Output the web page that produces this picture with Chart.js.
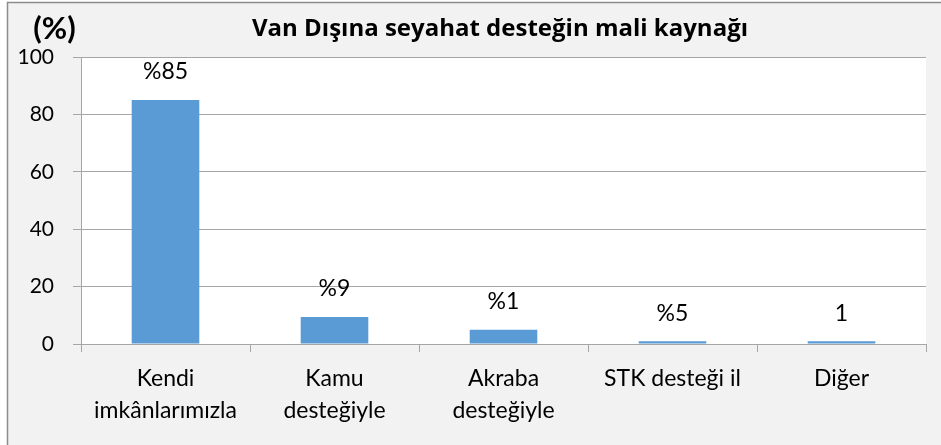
<!DOCTYPE html>
<html>
<head>
<meta charset="utf-8">
<script src="https://cdn.jsdelivr.net/npm/chart.js@4"></script>
<style>
  html, body { margin: 0; padding: 0; background: #fff; }
  #wrap { width: 941px; height: 445px; }
</style>
</head>
<body>
<div id="wrap"><canvas id="myChart" width="941" height="445"></canvas></div>
<script>
// chart data
const categories = [['Kendi', 'imkânlarımızla'], ['Kamu', 'desteğiyle'], ['Akraba', 'desteğiyle'], 'STK desteği il', 'Diğer'];
const values = [85, 9.4, 5, 1, 1];
const valueLabels = ['%85', '%9', '%1', '%5', '1'];
const yMin = 0;
const yMax = 100;
const yStep = 20;
const titleText = 'Van Dışına seyahat desteğin mali kaynağı';
const unitText = '(%)';

const fontName = 'Lato, "Open Sans", sans-serif';
const titleFont = '"Open Sans", Lato, sans-serif';
const gridColor = '#a6a6a6';

// background, border and white plot area
const backdrop = {
    id: 'backdrop',
    beforeDraw(chart) {
        const ctx = chart.ctx;
        const a = chart.chartArea;
        ctx.save();
        ctx.fillStyle = '#ffffff';
        ctx.fillRect(0, 0, chart.width, chart.height);
        ctx.fillStyle = '#f2f2f2';
        ctx.fillRect(8, 3, chart.width - 8, chart.height - 3);
        ctx.strokeStyle = '#8c8c8c';
        ctx.lineWidth = 1.5;
        ctx.beginPath();
        ctx.moveTo(7.5, chart.height);
        ctx.lineTo(7.5, 2.5);
        ctx.lineTo(chart.width, 2.5);
        ctx.stroke();
        ctx.fillStyle = '#ffffff';
        ctx.fillRect(a.left, a.top, a.right - a.left, a.bottom - a.top);
        ctx.restore();
    }
};

// titles and value labels
const texts = {
    id: 'texts',
    afterDraw(chart) {
        const ctx = chart.ctx;
        ctx.save();
        ctx.fillStyle = '#000';
        ctx.textBaseline = 'middle';
        ctx.textAlign = 'center';
        ctx.font = 'bold 24px ' + titleFont;
        ctx.fillText(titleText, 500, 29);
        ctx.font = 'bold 31px ' + fontName;
        ctx.fillText(unitText, 54.5, 29);

        ctx.font = '23px ' + fontName;
        const meta = chart.getDatasetMeta(0);
        meta.data.forEach(function(bar, i) {
            ctx.fillText(valueLabels[i], bar.x, bar.y - 28);
        });
        ctx.restore();
    }
};

const ctx = document.getElementById('myChart').getContext('2d');
new Chart(ctx, {
    type: 'bar',
    data: {
        labels: categories,
        datasets: [{
            data: values,
            backgroundColor: '#5b9bd5',
            borderWidth: 0,
            barPercentage: 0.5,
            categoryPercentage: 0.8
        }]
    },
    options: {
        responsive: false,
        animation: false,
        layout: { padding: { left: 0, right: 15, top: 57, bottom: 0 } },
        plugins: {
            legend: { display: false },
            title: { display: false },
            tooltip: { enabled: false }
        },
        scales: {
            x: {
                grid: {
                    offset: true,
                    drawOnChartArea: false,
                    drawTicks: true,
                    tickLength: 8,
                    color: gridColor
                },
                border: { display: true, color: gridColor },
                ticks: {
                    color: '#000',
                    font: { family: fontName, size: 23, lineHeight: 1.39 },
                    padding: 11,
                    maxRotation: 0,
                    autoSkip: false
                },
                afterFit(scale) { scale.height = 101; }
            },
            y: {
                min: yMin,
                max: yMax,
                grid: {
                    color: gridColor,
                    drawTicks: true,
                    tickLength: 8
                },
                border: { display: true, color: gridColor },
                ticks: {
                    stepSize: yStep,
                    color: '#000',
                    font: { family: fontName, size: 21 },
                    padding: 19
                },
                afterFit(scale) { scale.width = 81; }
            }
        }
    },
    plugins: [backdrop, texts]
});
</script>
</body>
</html>
